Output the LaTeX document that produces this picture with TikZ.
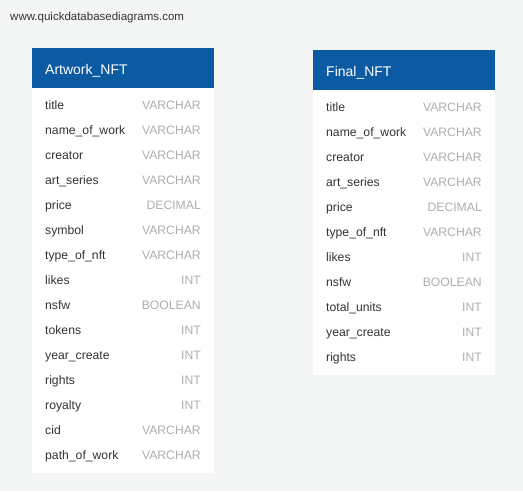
\documentclass[tikz,border=0pt]{standalone}
\usepackage{fontspec}
\setmainfont{Liberation Sans}
\definecolor{bg}{HTML}{F4F5F5}
\definecolor{hdr}{HTML}{0B5AA2}
\definecolor{fld}{HTML}{333333}
\definecolor{typ}{HTML}{AEAEAE}
\tikzset{
  fieldname/.style={anchor=base west,inner sep=0pt,text=fld,font=\fontsize{12.2}{14}\selectfont},
  fieldtype/.style={anchor=base east,inner sep=0pt,text=typ,font=\fontsize{12.2}{14}\selectfont},
  tabhead/.style={anchor=base west,inner sep=0pt,text=white,font=\fontsize{14}{16}\selectfont},
}
\begin{document}
\begin{tikzpicture}[x=1pt,y=-1pt]
\fill[bg] (0,0) rectangle (523,491);
\useasboundingbox (0,0) rectangle (523,491);
\node[anchor=base west,inner sep=0pt,text=fld,font=\fontsize{11.5}{13}\selectfont] (wm) at (10,20) {www.quickdatabasediagrams.com};
% Artwork_NFT
\fill[white] (32,88) rectangle (214,473);
\fill[hdr] (32,48) rectangle (214,88);
\node[tabhead] (A) at (45,74) {Artwork\_NFT};
\foreach \n/\t [count=\i from 0] in {title/VARCHAR,name\_of\_work/VARCHAR,creator/VARCHAR,art\_series/VARCHAR,price/DECIMAL,symbol/VARCHAR,type\_of\_nft/VARCHAR,likes/INT,nsfw/BOOLEAN,tokens/INT,year\_create/INT,rights/INT,royalty/INT,cid/VARCHAR,path\_of\_work/VARCHAR}{
  \node[fieldname] (an\i) at (45,109.3+25*\i) {\n};
  \node[fieldtype] (at\i) at (201,109.3+25*\i) {\t};
}
% Final_NFT
\fill[white] (313,90) rectangle (495,375);
\fill[hdr] (313,50) rectangle (495,90);
\node[tabhead] (F) at (326,76) {Final\_NFT};
\foreach \n/\t [count=\i from 0] in {title/VARCHAR,name\_of\_work/VARCHAR,creator/VARCHAR,art\_series/VARCHAR,price/DECIMAL,type\_of\_nft/VARCHAR,likes/INT,nsfw/BOOLEAN,total\_units/INT,year\_create/INT,rights/INT}{
  \node[fieldname] (fn\i) at (326,111.3+25*\i) {\n};
  \node[fieldtype] (ft\i) at (482,111.3+25*\i) {\t};
}
\end{tikzpicture}
\end{document}
